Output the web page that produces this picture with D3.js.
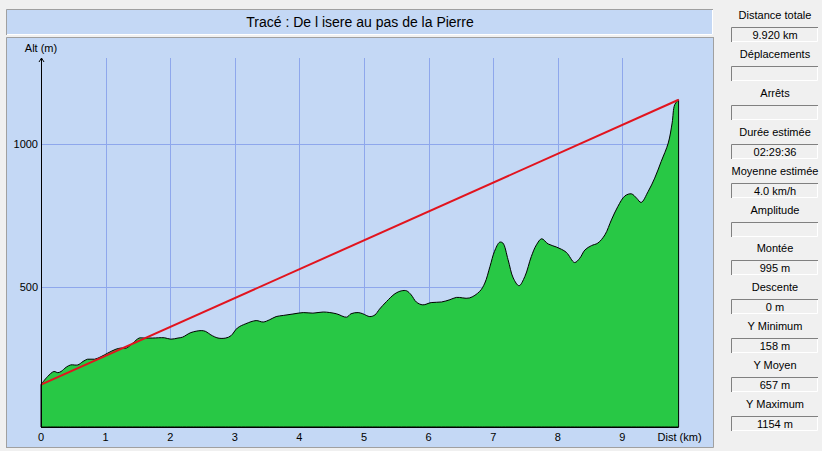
<!DOCTYPE html>
<html>
<head>
<meta charset="utf-8">
<script src="https://cdn.jsdelivr.net/npm/d3@7"></script>
<style>
  html, body { margin: 0; padding: 0; background: #f0f0f0; }
  svg { display: block; }
  text { font-family: "Liberation Sans", Arial, sans-serif; fill: #000; }
</style>
</head>
<body>
<svg id="chart" width="822" height="451"></svg>
<script>
// ---------- data ----------
const title = "Tracé : De l isere au pas de la Pierre";
const distKm = [0, 0.10, 0.20, 0.26, 0.31, 0.39, 0.46, 0.57, 0.65, 0.72, 0.83, 0.93, 1.03, 1.16, 1.24, 1.32, 1.42, 1.52, 1.60, 1.73, 1.91, 2.01, 2.12, 2.19, 2.32, 2.48, 2.55, 2.63, 2.74, 2.86, 2.94, 3.04, 3.17, 3.33, 3.44, 3.54, 3.64, 3.75, 3.90, 4.06, 4.21, 4.37, 4.57, 4.73, 4.80, 4.91, 4.98, 5.09, 5.17, 5.24, 5.35, 5.48, 5.58, 5.66, 5.73, 5.81, 5.91, 6.04, 6.20, 6.33, 6.43, 6.63, 6.79, 6.87, 6.95, 7.02, 7.10, 7.15, 7.23, 7.31, 7.40, 7.49, 7.59, 7.67, 7.75, 7.85, 7.98, 8.13, 8.26, 8.34, 8.42, 8.52, 8.62, 8.73, 8.83, 8.93, 9.04, 9.14, 9.22, 9.29, 9.40, 9.50, 9.60, 9.71, 9.77, 9.81, 9.87];
const altM = [158, 186, 204, 200, 204, 219, 227, 227, 239, 247, 247, 256, 268, 282, 286, 286, 303, 321, 321, 321, 322, 317, 321, 324, 340, 347, 344, 332, 321, 321, 329, 356, 371, 382, 377, 385, 396, 400, 405, 410, 408, 412, 406, 394, 406, 410, 406, 396, 402, 422, 449, 476, 486, 486, 472, 447, 437, 445, 447, 455, 463, 461, 484, 513, 571, 624, 656, 653, 595, 531, 504, 536, 606, 647, 668, 650, 639, 621, 585, 600, 629, 644, 653, 682, 734, 781, 818, 825, 810, 795, 834, 880, 938, 1003, 1073, 1137, 1154];
const xTicks = [0, 1, 2, 3, 4, 5, 6, 7, 8, 9];
const yTicks = [500, 1000];
const statLabels = ["Distance totale", "Déplacements", "Arrêts", "Durée estimée", "Moyenne estimée", "Amplitude", "Montée", "Descente", "Y Minimum", "Y Moyen", "Y Maximum"];
const statValues = ["9.920 km", "", "", "02:29:36", "4.0 km/h", "", "995 m", "0 m", "158 m", "657 m", "1154 m"];

// ---------- layout ----------
const svg = d3.select("#chart");
const plotL = 41, plotB = 427, plotT = 58;
const x = d3.scaleLinear().domain([0, 10]).range([plotL, 687]);
const y = d3.scaleLinear().domain([10, 1300]).range([plotB, plotT]);
const data = distKm.map((d, i) => ({ d, a: altM[i] }));
const xEnd = x(distKm[distKm.length - 1]);

// title box
svg.append("rect").attr("x", 6).attr("y", 9).attr("width", 707).attr("height", 26).attr("fill", "#c4d8f5");
svg.append("path").attr("d", "M6.5,35 V9.5 H713").attr("stroke", "#a0a0a0").attr("fill", "none");
svg.append("path").attr("d", "M7,34.5 H712.5 V10").attr("stroke", "#ffffff").attr("fill", "none");
svg.append("text").attr("x", 360).attr("y", 22).attr("text-anchor", "middle")
  .attr("dominant-baseline", "central").style("font-size", "14px").text(title);

// chart panel
svg.append("rect").attr("x", 6).attr("y", 37).attr("width", 707).attr("height", 411).attr("fill", "#c4d8f5");
svg.append("path").attr("d", "M6.5,448 V37.5 H713").attr("stroke", "#a0a0a0").attr("fill", "none");
svg.append("path").attr("d", "M6,447.5 H713.5 V37").attr("stroke", "#a0a0a0").attr("fill", "none");

// grid
const grid = svg.append("g").attr("stroke", "#8ea7ec").attr("stroke-width", 1);
xTicks.filter(t => t > 0).forEach(t => {
  grid.append("line").attr("x1", Math.round(x(t)) + 0.5).attr("x2", Math.round(x(t)) + 0.5)
    .attr("y1", plotT).attr("y2", plotB);
});
yTicks.forEach(t => {
  grid.append("line").attr("x1", plotL).attr("x2", xEnd)
    .attr("y1", Math.round(y(t)) + 0.5).attr("y2", Math.round(y(t)) + 0.5);
});

// area
const area = d3.area().x(p => x(p.d)).y0(plotB).y1(p => y(p.a)).curve(d3.curveCatmullRom.alpha(0.5));
svg.append("path").datum(data).attr("d", area).attr("fill", "#28c845")
  .attr("stroke", "#000").attr("stroke-width", 1).attr("stroke-linejoin", "round");

// red line from first to last point
svg.append("line")
  .attr("x1", x(data[0].d)).attr("y1", y(data[0].a))
  .attr("x2", x(data[data.length - 1].d)).attr("y2", y(data[data.length - 1].a))
  .attr("stroke", "#e2141e").attr("stroke-width", 2);

// axes lines
svg.append("line").attr("x1", plotL + 0.5).attr("x2", plotL + 0.5).attr("y1", plotT).attr("y2", plotB + 1).attr("stroke", "#000");
svg.append("line").attr("x1", plotL).attr("x2", xEnd).attr("y1", plotB + 0.5).attr("y2", plotB + 0.5).attr("stroke", "#000");
svg.append("path").attr("d", `M${plotL - 2},${plotT + 4} L${plotL + 0.5},${plotT} L${plotL + 3},${plotT + 4}`)
  .attr("stroke", "#000").attr("fill", "none");

// axis labels
svg.append("text").attr("x", plotL).attr("y", 48).attr("text-anchor", "middle")
  .attr("dominant-baseline", "central").style("font-size", "11px").text("Alt (m)");
yTicks.forEach(t => {
  svg.append("text").attr("x", 38).attr("y", y(t)).attr("text-anchor", "end")
    .attr("dominant-baseline", "central").style("font-size", "11px").text(t);
});
xTicks.forEach(t => {
  svg.append("text").attr("x", x(t)).attr("y", 437).attr("text-anchor", "middle")
    .attr("dominant-baseline", "central").style("font-size", "11px").text(t);
});
svg.append("text").attr("x", xEnd + 1).attr("y", 437).attr("text-anchor", "middle")
  .attr("dominant-baseline", "central").style("font-size", "11px").text("Dist (km)");

// right stats panel
const panel = svg.append("g");
statLabels.forEach((lab, i) => {
  const cy = 15 + i * 38.9;
  panel.append("text").attr("x", 775).attr("y", cy).attr("text-anchor", "middle")
    .attr("dominant-baseline", "central").style("font-size", "11px").text(lab);
  const by = Math.round(cy + 12);
  panel.append("rect").attr("x", 731).attr("y", by).attr("width", 87).attr("height", 15).attr("fill", "#f0f0f0");
  panel.append("path").attr("d", `M731.5,${by + 15} V${by + 0.5} H818`).attr("stroke", "#808080").attr("fill", "none");
  panel.append("path").attr("d", `M732,${by + 14.5} H817.5 V${by + 1}`).attr("stroke", "#ffffff").attr("fill", "none");
  panel.append("text").attr("x", 775).attr("y", by + 8).attr("text-anchor", "middle")
    .attr("dominant-baseline", "central").style("font-size", "11px").text(statValues[i]);
});
</script>
</body>
</html>
